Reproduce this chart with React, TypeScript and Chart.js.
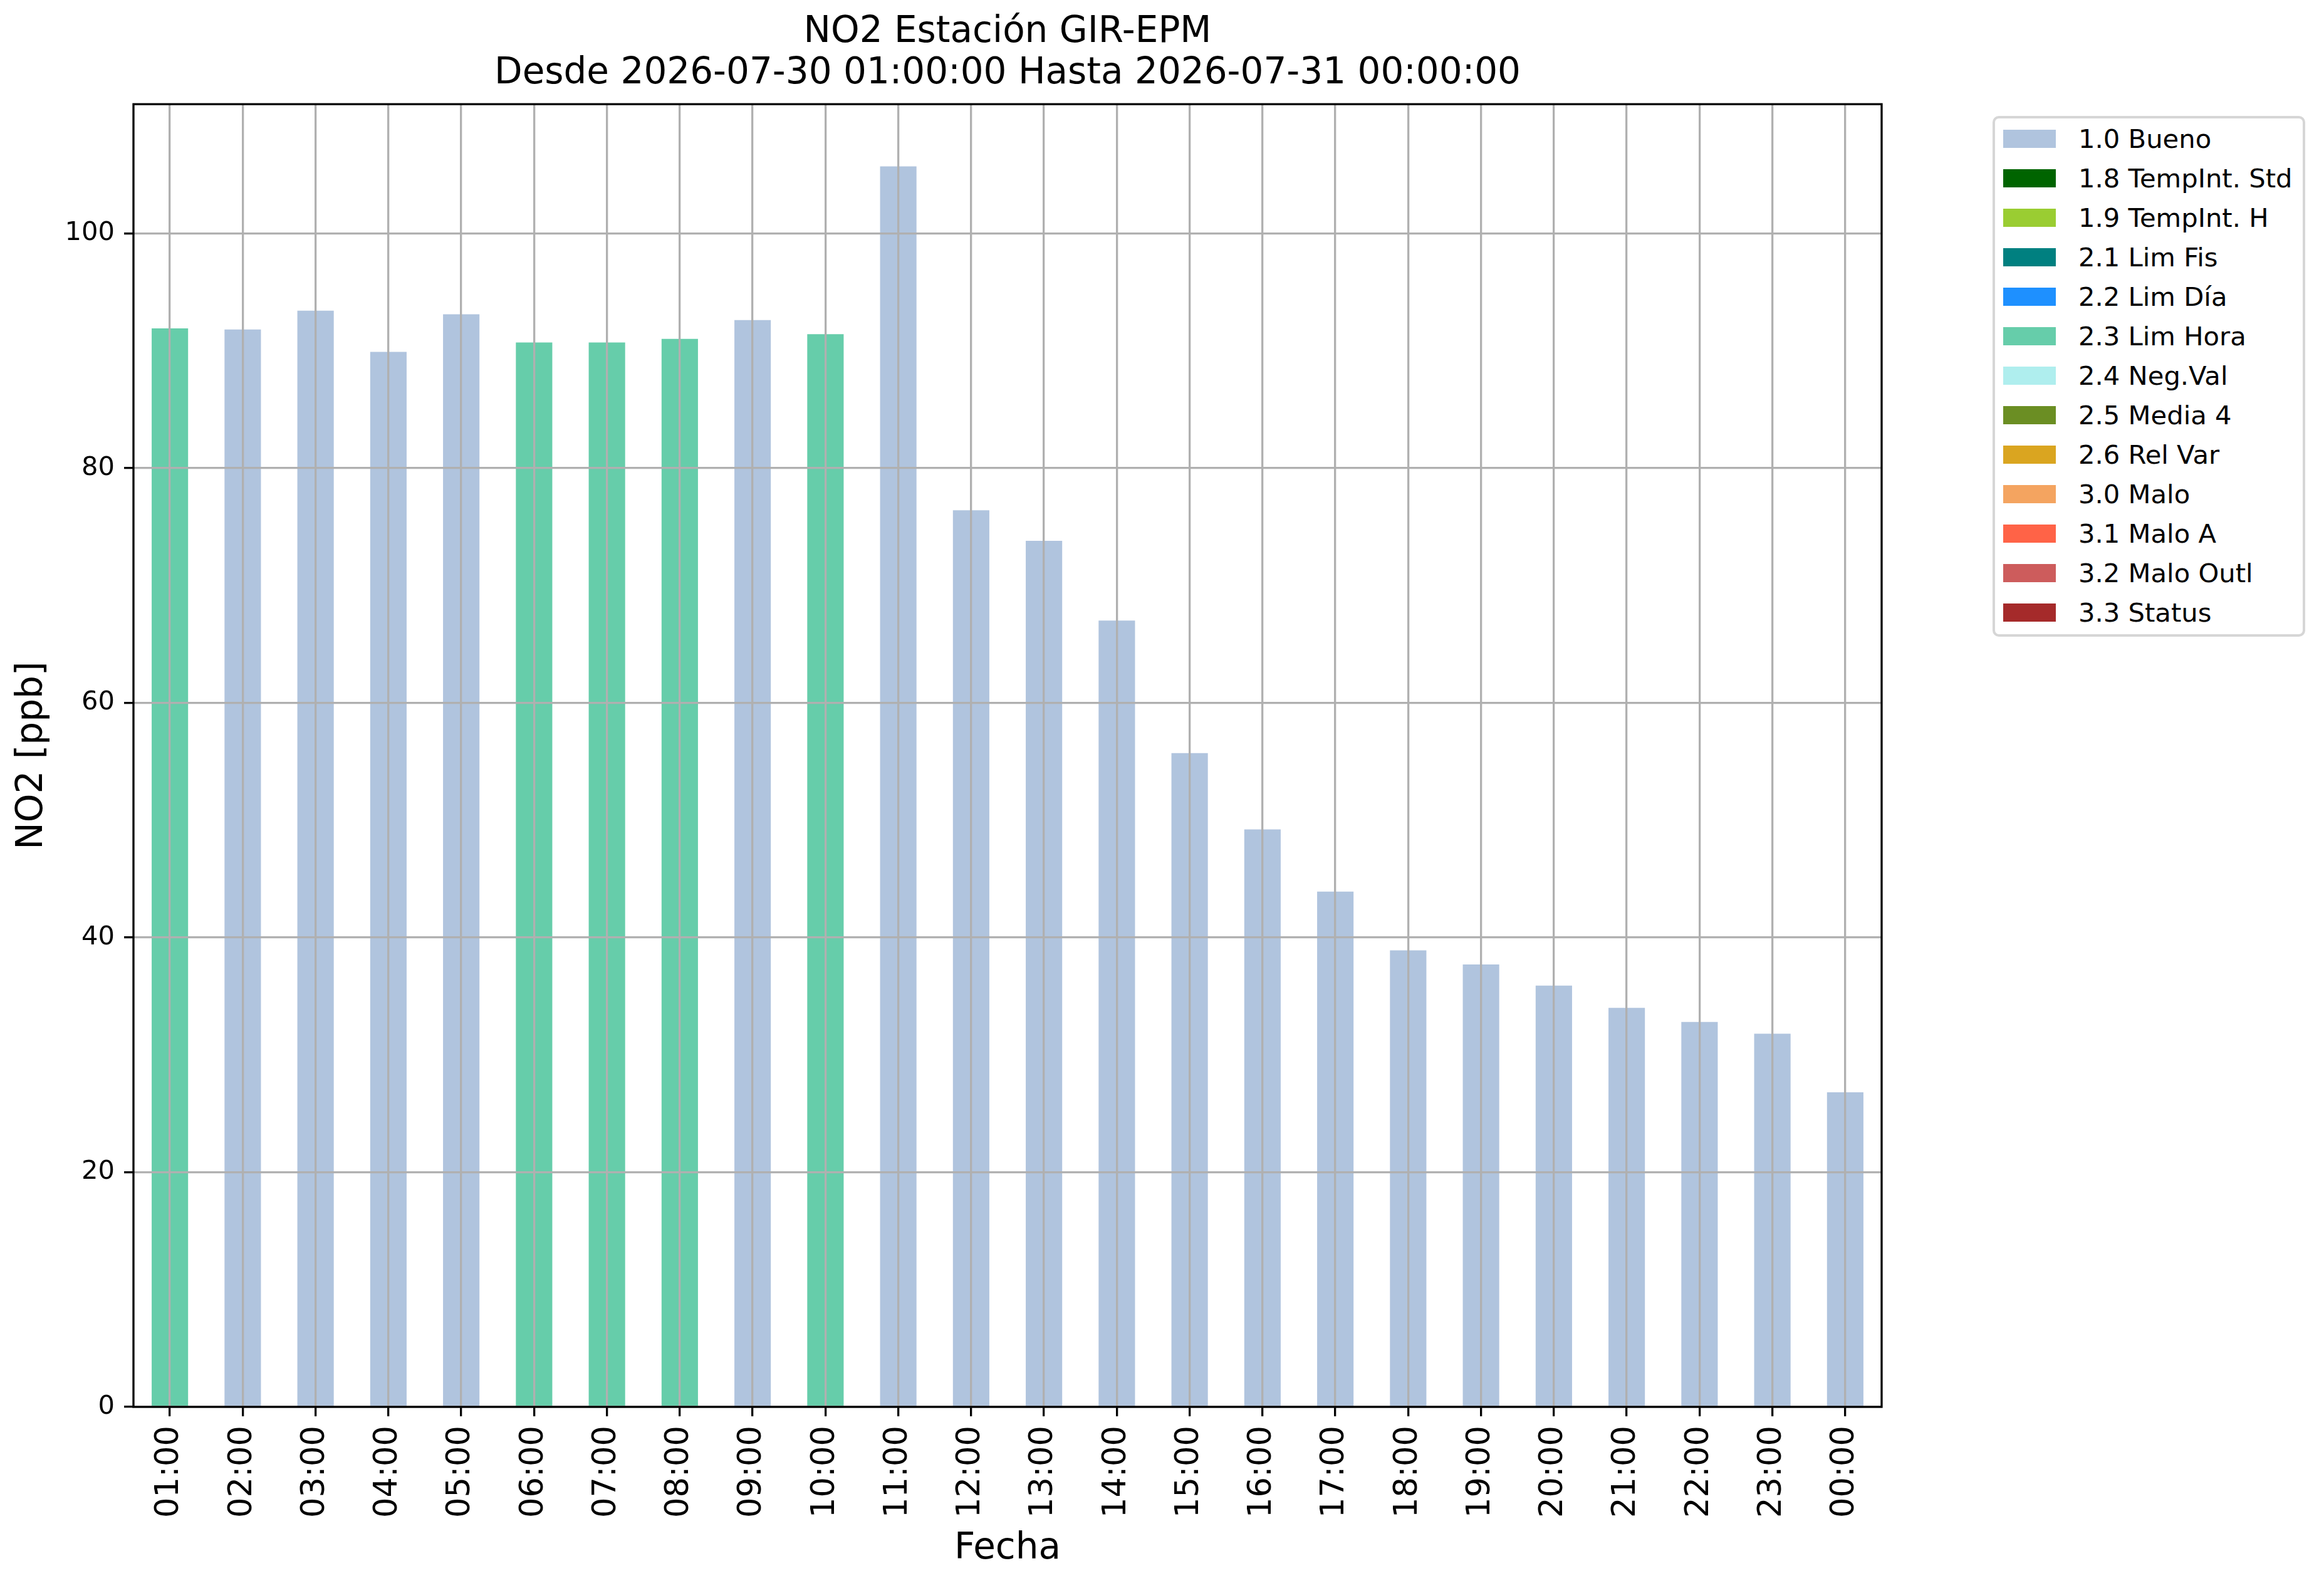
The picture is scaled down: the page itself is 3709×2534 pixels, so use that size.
import { useEffect, useRef } from "react"
import { Chart, registerables } from "chart.js"

Chart.register(...registerables)

const FONT = "'DejaVu Sans', 'Liberation Sans', sans-serif"

const hours = [
  "01:00", "02:00", "03:00", "04:00", "05:00", "06:00", "07:00", "08:00",
  "09:00", "10:00", "11:00", "12:00", "13:00", "14:00", "15:00", "16:00",
  "17:00", "18:00", "19:00", "20:00", "21:00", "22:00", "23:00", "00:00",
]

// NO2 [ppb] per hour
const no2Values = [
  91.9, 91.8, 93.4, 89.9, 93.1, 90.7, 90.7, 91.0, 92.6, 91.4, 105.7, 76.4,
  73.8, 67.0, 55.7, 49.2, 43.9, 38.9, 37.7, 35.9, 34.0, 32.8, 31.8, 26.8,
]

// quality flag of each hour
const hourFlags = [
  "2.3", "1.0", "1.0", "1.0", "1.0", "2.3", "2.3", "2.3", "1.0", "2.3", "1.0", "1.0",
  "1.0", "1.0", "1.0", "1.0", "1.0", "1.0", "1.0", "1.0", "1.0", "1.0", "1.0", "1.0",
]

const flagCodes = ["1.0", "1.8", "1.9", "2.1", "2.2", "2.3", "2.4", "2.5", "2.6", "3.0", "3.1", "3.2", "3.3"]
const flagNames = [
  "1.0 Bueno", "1.8 TempInt. Std", "1.9 TempInt. H", "2.1 Lim Fis", "2.2 Lim Día",
  "2.3 Lim Hora", "2.4 Neg.Val", "2.5 Media 4", "2.6 Rel Var", "3.0 Malo",
  "3.1 Malo A", "3.2 Malo Outl", "3.3 Status",
]
const flagColors = [
  "#b0c4de", "#006400", "#9acd32", "#008080", "#1e90ff", "#66cdaa", "#afeeee",
  "#6b8e23", "#daa520", "#f4a460", "#ff6347", "#cd5c5c", "#a52a2a",
]

const yTickStep = 20
const yMax = 111

const frame = {
  id: "frame",
  afterDraw(chart: Chart) {
    const { ctx, chartArea } = chart
    ctx.save()
    ctx.strokeStyle = "#000"
    ctx.lineWidth = 3.3
    ctx.strokeRect(chartArea.left, chartArea.top, chartArea.right - chartArea.left, chartArea.bottom - chartArea.top)
    ctx.restore()
  },
}

function NO2Chart() {
  const chartRef = useRef<HTMLCanvasElement>(null)
  const chartInstance = useRef<Chart | null>(null)

  useEffect(() => {
    if (!chartRef.current) return
    if (chartInstance.current) chartInstance.current.destroy()
    const ctx = chartRef.current.getContext("2d")
    if (!ctx) return

    // grid drawn over the bars, like matplotlib
    const gridStyle = {
      color: "#b0b0b0",
      lineWidth: 3.3,
      tickColor: "#000",
      tickWidth: 3.3,
      tickLength: 15,
      z: 1,
    }

    chartInstance.current = new Chart(ctx, {
      type: "bar",
      data: {
        labels: hours,
        datasets: flagCodes.map((code, i) => ({
          label: flagNames[i],
          data: no2Values.map((v, j) => (hourFlags[j] === code ? v : null)),
          backgroundColor: flagColors[i],
          borderWidth: 0,
          barPercentage: 0.5,
          categoryPercentage: 1,
        })),
      },
      options: {
        animation: false,
        responsive: false,
        devicePixelRatio: 1,
        layout: { padding: { left: 0, right: 706, top: 0, bottom: 0 } },
        plugins: {
          legend: { display: false },
          tooltip: { enabled: false },
          title: {
            display: true,
            fullSize: false,
            text: ["NO2 Estación GIR-EPM", "Desde 2026-07-30 01:00:00 Hasta 2026-07-31 00:00:00"],
            color: "#000",
            font: { family: FONT, size: 58, weight: "normal", lineHeight: 1.14 },
            padding: { top: 19, bottom: 15 },
          },
        },
        scales: {
          x: {
            stacked: true,
            offset: true,
            border: { display: false },
            grid: { ...gridStyle, offset: false },
            ticks: {
              autoSkip: false,
              minRotation: 90,
              maxRotation: 90,
              padding: 15,
              color: "#000",
              font: { family: FONT, size: 51 },
            },
            title: {
              display: true,
              text: "Fecha",
              color: "#000",
              font: { family: FONT, size: 58, lineHeight: 1.2 },
              padding: { top: 0, bottom: 27 },
            },
            afterFit: (scale: any) => {
              scale.height = 289
            },
          },
          y: {
            stacked: true,
            min: 0,
            max: yMax,
            border: { display: false },
            grid: gridStyle,
            ticks: {
              stepSize: yTickStep,
              includeBounds: false,
              padding: 15,
              color: "#000",
              font: { family: FONT, size: 41.7 },
            },
            title: {
              display: true,
              text: "NO2 [ppb]",
              color: "#000",
              font: { family: FONT, size: 58, lineHeight: 1.2 },
              padding: { top: 17, bottom: 0 },
            },
            afterFit: (scale: any) => {
              scale.width = 213
            },
          },
        },
      },
      plugins: [frame],
    })

    return () => {
      if (chartInstance.current) {
        chartInstance.current.destroy()
        chartInstance.current = null
      }
    }
  }, [])

  return <canvas ref={chartRef} width={3709} height={2534} style={{ position: "absolute", left: 0, top: 0 }} />
}

function Legend() {
  return (
    <div
      style={{
        position: "absolute",
        left: 3180,
        top: 185,
        width: 499,
        height: 831,
        boxSizing: "border-box",
        border: "4px solid #d6d6d6",
        borderRadius: 10,
        background: "#fff",
        fontFamily: FONT,
        fontSize: 41.7,
        color: "#000",
      }}
    >
      {flagNames.map((name, i) => (
        <div key={name} style={{ position: "absolute", left: 13, top: 18 + i * 63, height: 29, display: "flex" }}>
          <div style={{ width: 84, height: 29, background: flagColors[i] }} />
          <div style={{ marginLeft: 36, lineHeight: "29px", whiteSpace: "nowrap" }}>{name}</div>
        </div>
      ))}
    </div>
  )
}

export default function App() {
  useEffect(() => {
    document.body.style.margin = "0"
  }, [])

  return (
    <div style={{ position: "relative", width: 3709, height: 2534, background: "#fff", overflow: "hidden" }}>
      <NO2Chart />
      <Legend />
    </div>
  )
}
